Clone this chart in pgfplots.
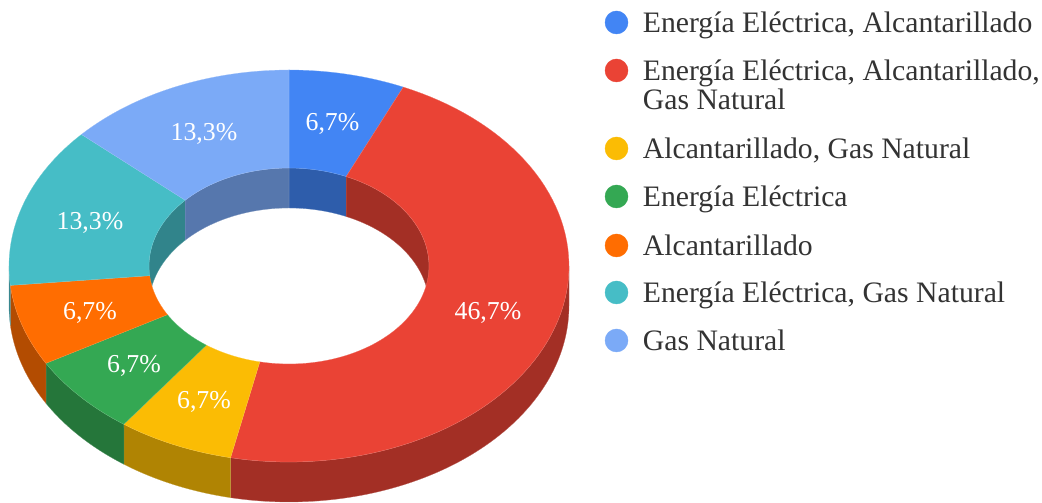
\documentclass[border=0pt]{standalone}
\usepackage{fontspec}
\setmainfont{Liberation Serif}
\usepackage{pgfplots}
\usepackage{pgfplotstable}
\pgfplotsset{compat=1.18}
\definecolor{cA}{HTML}{4285F4}
\definecolor{cB}{HTML}{EA4335}
\definecolor{cC}{HTML}{FBBC04}
\definecolor{cD}{HTML}{34A853}
\definecolor{cE}{HTML}{FF6D01}
\definecolor{cF}{HTML}{46BDC6}
\definecolor{cG}{HTML}{7BAAF7}
\definecolor{dA}{HTML}{2E5DAB}
\definecolor{dB}{HTML}{A32F25}
\definecolor{dC}{HTML}{B08403}
\definecolor{dD}{HTML}{25763A}
\definecolor{dE}{HTML}{B34C01}
\definecolor{dF}{HTML}{31848B}
\definecolor{dG}{HTML}{5677AD}
% slice shares in percent, clockwise from twelve o'clock
\def\vA{6.7}\def\vB{46.7}\def\vC{6.7}\def\vD{6.7}\def\vE{6.7}\def\vF{13.3}\def\vG{13.3}
\pgfmathsetmacro\tot{\vA+\vB+\vC+\vD+\vE+\vF+\vG}
\pgfmathsetmacro\aA{\vA/\tot*360}
\pgfmathsetmacro\aB{\aA+\vB/\tot*360}
\pgfmathsetmacro\aC{\aB+\vC/\tot*360}
\pgfmathsetmacro\aD{\aC+\vD/\tot*360}
\pgfmathsetmacro\aE{\aD+\vE/\tot*360}
\pgfmathsetmacro\aF{\aE+\vF/\tot*360}
% geometry in pixels
\def\cx{289}\def\cy{237}\def\ro{280}\def\ri{140}\def\sq{0.7}\def\dz{40}
% #1 start angle, #2 end angle, #3 first radius, #4 first drop, #5 second radius, #6 second drop, #7 colour
\newcommand\sector[7]{%
  \addplot[fill=#7,draw=#7!75!white,line width=0.25pt,variable=\t,domain=0:2,samples=161,forget plot]
  ({\t<=1 ? \cx+#3*sin(#1+(#2-#1)*\t) : \cx+#5*sin(#2-(#2-#1)*(\t-1.0125)/0.9875)},
   {\t<=1 ? \cy-#4+\sq*#3*cos(#1+(#2-#1)*\t) : \cy-#6+\sq*#5*cos(#2-(#2-#1)*(\t-1.0125)/0.9875)}) --cycle;}
\newcommand\topface[3]{\sector{#1}{#2}{\ro}{0}{\ri}{0}{#3}}
\newcommand\outerwall[3]{\sector{#1}{#2}{\ro}{0}{\ro}{\dz}{#3}}
\newcommand\innerwall[3]{\sector{#1}{#2}{\ri}{0}{\ri}{\dz}{#3}}
\newcommand\lab[3]{\node[text=white,font=\fontsize{25.8}{25.8}\selectfont] at (axis cs:#1,{503-#2-1.5}) {#3};}
\newcommand\legtext[2]{\node[anchor=base west,text=black!80,font=\fontsize{29.7}{29.7}\selectfont,inner sep=0pt] at (axis cs:642.7,{503-#1-10.5}) {#2};}
\newcommand\leg[3]{%
  \addplot[only marks,mark=*,mark size=11.5pt,color=#1,mark options={draw=none,fill=#1},forget plot] coordinates {(616.5,{503-#2-0.5})};
  \legtext{#2}{#3}}
\begin{document}
\begin{tikzpicture}
\useasboundingbox (0,0) rectangle (1042pt,503pt);
\begin{axis}[
  at={(0,0)},anchor=south west,
  width=1042pt,height=503pt,scale only axis,
  xmin=0,xmax=1042,ymin=0,ymax=503,
  hide axis,clip=false]
% inner walls (far side of the hole)
\innerwall{0}{\aA}{dA}
\innerwall{\aA}{90}{dB}
\innerwall{270}{\aF-0}{dF}
\innerwall{\aF}{360}{dG}
% outer walls (near side)
\outerwall{90}{\aB}{dB}
\outerwall{\aB}{\aC}{dC}
\outerwall{\aC}{\aD}{dD}
\outerwall{\aD}{\aE}{dE}
\outerwall{\aE}{270}{dF}
% top faces
\topface{0}{\aA}{cA}
\topface{\aA}{\aB}{cB}
\topface{\aB}{\aC}{cC}
\topface{\aC}{\aD}{cD}
\topface{\aD}{\aE}{cE}
\topface{\aE}{\aF}{cF}
\topface{\aF}{360}{cG}
\lab{332.5}{122}{6,7\%}
\lab{488}{311}{46,7\%}
\lab{204}{400}{6,7\%}
\lab{134}{364}{6,7\%}
\lab{90}{311}{6,7\%}
\lab{90}{221}{13,3\%}
\lab{204}{132}{13,3\%}
\leg{cA}{22}{Energía Eléctrica, Alcantarillado}
\leg{cB}{70}{Energía Eléctrica, Alcantarillado,}
\legtext{99}{Gas Natural}
\leg{cC}{148}{Alcantarillado, Gas Natural}
\leg{cD}{196}{Energía Eléctrica}
\leg{cE}{245}{Alcantarillado}
\leg{cF}{292}{Energía Eléctrica, Gas Natural}
\leg{cG}{340}{Gas Natural}
\end{axis}
\end{tikzpicture}
\end{document}
